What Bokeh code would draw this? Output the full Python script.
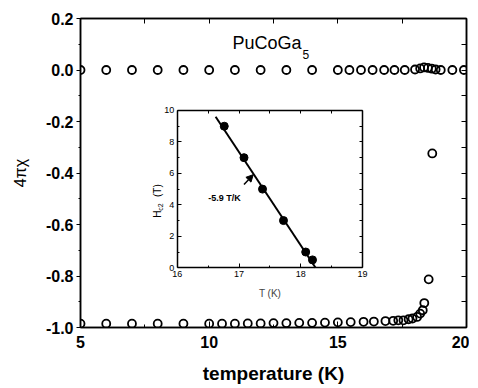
import math
from bokeh.plotting import figure
from bokeh.models import LinearAxis, Range1d, FixedTicker, PrintfTickFormatter, Arrow, NormalHead
from bokeh.core.properties import value
from bokeh.embed import file_html
from bokeh.resources import INLINE

# ---------------- data ----------------
# main panel: 4*pi*chi vs temperature (K)
top_T = [5.0, 6.0, 7.0, 8.0, 9.0, 10.0, 11.0, 12.0, 13.0, 14.0, 15.0, 15.45, 15.9,
         16.35, 16.8, 17.2, 17.6, 18.0, 18.2, 18.35, 18.5, 18.65, 18.8, 19.0, 19.45, 19.9]
top_chi = [0.0, 0.0, 0.0, 0.0, 0.0, 0.0, 0.0, 0.0, 0.0, 0.0, 0.0, 0.0, 0.0,
           0.0, 0.0, 0.0, 0.0, 0.002, 0.006, 0.01, 0.008, 0.005, 0.002, 0.0, 0.0, 0.0]

bot_T = [5.0, 6.0, 7.0, 8.0, 9.0, 10.0, 10.5, 11.0, 11.5, 12.0, 12.5, 13.0, 13.5, 14.0,
         14.5, 15.0, 15.5, 16.0, 16.4, 16.85, 17.15, 17.35, 17.55, 17.75, 17.9, 18.08,
         18.2, 18.3, 18.36, 18.53, 18.67]
bot_chi = [-0.985, -0.985, -0.985, -0.985, -0.985, -0.985, -0.985, -0.985, -0.984, -0.984,
           -0.983, -0.983, -0.982, -0.982, -0.981, -0.98, -0.979, -0.978, -0.977, -0.975,
           -0.974, -0.972, -0.972, -0.968, -0.965, -0.959, -0.946, -0.933, -0.905, -0.813,
           -0.324]

x_ticks = [5, 10, 15, 20]
x_minor = [7.5, 12.5, 17.5]
y_ticks = [-1.0, -0.8, -0.6, -0.4, -0.2, 0.0, 0.2]
y_minor = [-0.9, -0.7, -0.5, -0.3, -0.1, 0.1]

# inset: Hc2 vs T
hc2_T = [16.76, 17.08, 17.38, 17.72, 18.08, 18.19]
hc2_H = [9.0, 7.0, 5.0, 3.0, 1.0, 0.5]
fit_T = [16.62, 18.24]
fit_H = [9.6, 0.0]
inset_T_ticks = [16, 17, 18, 19]
inset_T_minor = [16.5, 17.5, 18.5]
inset_H_ticks = [0, 2, 4, 6, 8, 10]
inset_H_minor = [1, 3, 5, 7, 9]

FONT = "Liberation Sans"

# ---------------- main figure ----------------
p = figure(width=469, height=388, x_range=Range1d(5, 20), y_range=Range1d(-1.0, 0.2),
           output_backend="svg", toolbar_location=None,
           min_border_left=80, min_border_right=3, min_border_top=18, min_border_bottom=61)
p.outline_line_color = "black"
p.outline_line_width = 1.5
p.xgrid.visible = False
p.ygrid.visible = False

xb = p.below[0]
xb.ticker = FixedTicker(ticks=x_ticks, minor_ticks=x_minor)
xb.major_label_text_font = FONT
xb.major_label_text_font_size = "16px"
xb.major_label_text_font_style = "bold"
xb.major_label_text_color = "black"
xb.major_tick_in = 6
xb.major_tick_out = 0
xb.minor_tick_in = 3
xb.minor_tick_out = 0
xb.major_label_standoff = 8
xb.axis_line_width = 1.5
xb.axis_label = "temperature (K)"
xb.axis_label_text_font = FONT
xb.axis_label_text_font_size = "19px"
xb.axis_label_text_font_style = "bold"
xb.axis_label_text_color = "black"
xb.axis_label_standoff = 12

yl = p.left[0]
yl.ticker = FixedTicker(ticks=y_ticks, minor_ticks=y_minor)
yl.formatter = PrintfTickFormatter(format="%.1f")
yl.major_label_text_font = FONT
yl.major_label_text_font_size = "16px"
yl.major_label_text_font_style = "bold"
yl.major_label_text_color = "black"
yl.major_tick_in = 0
yl.major_tick_out = 4
yl.minor_tick_in = 0
yl.minor_tick_out = 2
yl.major_label_standoff = 3
yl.axis_line_width = 1.5
yl.axis_label = "4πχ"
yl.axis_label_text_font = FONT
yl.axis_label_text_font_size = "16px"
yl.axis_label_text_font_style = "normal"
yl.axis_label_text_color = "black"
yl.axis_label_standoff = 14

# top / right: tick marks only (all given as minor ticks, so no labels are made)
for side, tk, mn in (("above", x_ticks, x_minor), ("right", y_ticks, y_minor)):
    ax = LinearAxis(ticker=FixedTicker(ticks=[], minor_ticks=sorted(tk + mn)),
                    major_tick_in=0, major_tick_out=0, minor_tick_in=5, minor_tick_out=0,
                    major_label_standoff=0, axis_line_width=1.5)
    p.add_layout(ax, side)

p.scatter(top_T, top_chi, size=8, marker="circle", fill_color=None,
          line_color="black", line_width=1.8)
p.scatter(bot_T, bot_chi, size=8, marker="circle", fill_color=None,
          line_color="black", line_width=1.8)

p.text(x=[10.91], y=[0.105], text=["PuCoGa"], text_font=value(FONT),
       text_font_size="18px", text_baseline="alphabetic", text_align="left", text_color="black")
p.text(x=[13.63], y=[0.06], text=["5"], text_font=value(FONT),
       text_font_size="12px", text_baseline="alphabetic", text_align="left", text_color="black")

# ---------------- inset (drawn through its own ranges) ----------------
p.extra_x_ranges = {"ix": Range1d(14.43, 20.686)}
p.extra_y_ranges = {"iy": Range1d(-3.8, 15.85)}

def inset_axis(side, loc, bounds, ticks, minor, labels):
    if labels:
        tkr = FixedTicker(ticks=ticks, minor_ticks=minor)
    else:
        tkr = FixedTicker(ticks=[], minor_ticks=sorted(ticks + minor))
    ax = LinearAxis(x_range_name="ix", y_range_name="iy", fixed_location=loc, bounds=bounds,
                    ticker=tkr,
                    major_tick_in=4, major_tick_out=0, minor_tick_in=2 if labels else 3,
                    minor_tick_out=0, axis_line_width=1.5, major_label_standoff=3,
                    major_label_text_font=FONT, major_label_text_font_size="9px",
                    major_label_text_color="black")
    p.add_layout(ax, side)
    return ax

ib = inset_axis("below", inset_H_ticks[0], (inset_T_ticks[0], inset_T_ticks[-1]), inset_T_ticks, inset_T_minor, True)
ib.axis_label = "T (K)"
ib.axis_label_text_font = FONT
ib.axis_label_text_font_size = "10px"
ib.axis_label_text_font_style = "normal"
ib.axis_label_standoff = 8
il = inset_axis("left", inset_T_ticks[0], (inset_H_ticks[0], inset_H_ticks[-1]), inset_H_ticks, inset_H_minor, True)
inset_axis("above", inset_H_ticks[-1], (inset_T_ticks[0], inset_T_ticks[-1]), inset_T_ticks, inset_T_minor, False)
inset_axis("right", inset_T_ticks[-1], (inset_H_ticks[0], inset_H_ticks[-1]), inset_H_ticks, inset_H_minor, False)

p.line(fit_T, fit_H, x_range_name="ix", y_range_name="iy", line_color="black", line_width=2)
p.scatter(hc2_T, hc2_H, x_range_name="ix", y_range_name="iy", size=8, marker="circle",
          fill_color="black", line_color="black")

p.text(x=[16.5], y=[4.45], text=["-5.9 T/K"], x_range_name="ix", y_range_name="iy",
       text_font=value(FONT), text_font_size="9px", text_font_style="bold",
       text_baseline="middle", text_align="left", text_color="black")
p.add_layout(Arrow(x_start=17.08, y_start=5.3, x_end=17.23, y_end=5.92,
                   x_range_name="ix", y_range_name="iy", line_width=1.5,
                   end=NormalHead(size=7, fill_color="black", line_color="black")))

# rotated inset y label: H_c2 (T)
p.text(x=[15.68], y=[3.18], text=["H"], x_range_name="ix", y_range_name="iy", angle=math.pi / 2,
       text_font=value(FONT), text_font_size="10px", text_baseline="middle", text_align="left",
       text_color="black")
p.text(x=[15.73], y=[3.62], text=["c2"], x_range_name="ix", y_range_name="iy", angle=math.pi / 2,
       text_font=value(FONT), text_font_size="7px", text_baseline="middle", text_align="left",
       text_color="black")
p.text(x=[15.68], y=[4.5], text=["(T)"], x_range_name="ix", y_range_name="iy", angle=math.pi / 2,
       text_font=value(FONT), text_font_size="10px", text_baseline="middle", text_align="left",
       text_color="black")

open("out.html", "w").write(file_html(p, INLINE))
